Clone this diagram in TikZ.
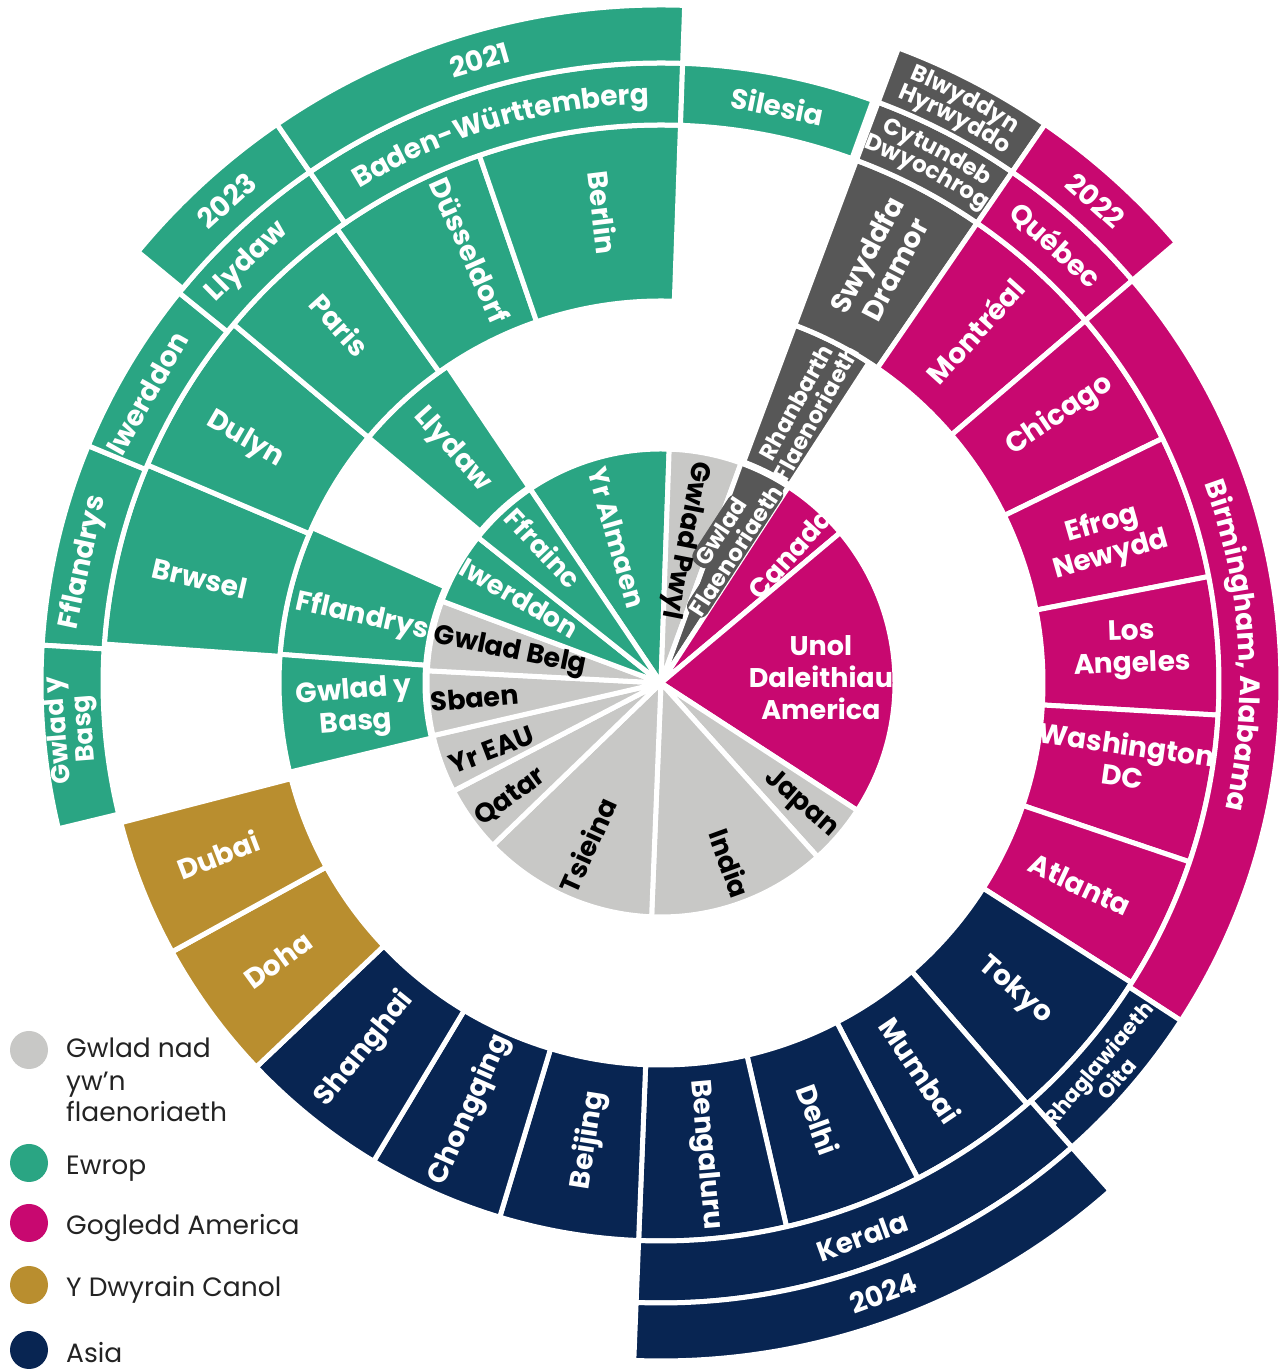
\documentclass[tikz,border=0pt]{standalone}
\usepackage{fontspec}
\setmainfont{Poppins}
\usetikzlibrary{decorations.text}
\definecolor{cEu}{RGB}{42,165,131}
\definecolor{cNa}{RGB}{200,8,112}
\definecolor{cMe}{RGB}{185,142,47}
\definecolor{cAs}{RGB}{8,37,82}
\definecolor{cLg}{RGB}{200,200,198}
\definecolor{cDg}{RGB}{87,87,87}
\definecolor{cTx}{RGB}{35,35,35}
\newcommand{\mysect}[5]{\filldraw[fill=#5, draw=white, line width=5pt, line join=round] (#1:#3) arc[start angle=#1, end angle=#2, radius=#3] -- (#2:#4) arc[start angle=#2, end angle=#1, radius=#4] -- cycle;}
\newcommand{\mylab}[6][white]{\node[lab, text=#1, rotate=#5] (#2) at (#3:#4) {#6};}
% curved text: start angle, end angle, radius, size, text
\newcommand{\arctext}[5]{\path[decorate, decoration={text along path, text align=center, text={|\bfseries\fontsize{#4}{#4}\selectfont\color{white}|#5}}] (#1:#3) arc[start angle=#1, end angle=#2, radius=#3];}
\tikzset{
  lab/.style={font=\bfseries\fontsize{28}{32}\selectfont, align=center, inner sep=0pt},
  innerlab/.style={font=\bfseries\fontsize{27}{32}\selectfont},
  midlab/.style={font=\bfseries\fontsize{23}{23}\selectfont},
  flaenlab/.style={font=\bfseries\fontsize{23}{23}\selectfont},
  basglab/.style={font=\bfseries\fontsize{26}{25}\selectfont},
  tinylab/.style={font=\bfseries\fontsize{21.5}{21}\selectfont},
  legtext/.style={font=\fontsize{26.5}{30}\selectfont, text=cTx, anchor=base west, inner sep=0pt}
}
\begin{document}
\begin{tikzpicture}[x=1pt,y=1pt]
\useasboundingbox (0,0) rectangle (1284,1370);
\fill[white] (0,0) rectangle (1284,1370);
\begin{scope}[shift={(661,687)}]
% ---------- ring 1 : countries
\mysect{88}{124}{0.5}{234}{cEu}
\mysect{70}{88}{0.5}{234}{cLg}
\mysect{57}{70}{0.5}{234}{cDg}
\mysect{40}{57}{0.5}{234}{cNa}
\mysect{-33}{40}{0.5}{234}{cNa}
\mysect{-48}{-33}{0.5}{234}{cLg}
\mysect{-92.3}{-48}{0.5}{234}{cLg}
\mysect{224}{267.7}{0.5}{234}{cLg}
\mysect{207.5}{224}{0.5}{234}{cLg}
\mysect{193}{207.5}{0.5}{234}{cLg}
\mysect{177}{193}{0.5}{234}{cLg}
\mysect{159.5}{177}{0.5}{234}{cLg}
\mysect{141.5}{159.5}{0.5}{234}{cEu}
\mysect{124}{141.5}{0.5}{234}{cEu}
% ---------- ring 2 : regions
\mysect{156}{175.7}{236}{382}{cEu}
\mysect{175.7}{193.5}{236}{382}{cEu}
\mysect{124}{140}{236}{382}{cEu}
\mysect{57}{69.5}{236}{382}{cDg}
% ---------- ring 3 : cities
\mysect{55.5}{69.5}{382}{558}{cDg}
\mysect{40.5}{55.5}{382}{558}{cNa}
\mysect{26}{40.5}{382}{558}{cNa}
\mysect{11}{26}{382}{558}{cNa}
\mysect{-3.3}{11}{382}{558}{cNa}
\mysect{-18.7}{-3.3}{382}{558}{cNa}
\mysect{-32.5}{-18.7}{382}{558}{cNa}
\mysect{-49}{-32.5}{382}{558}{cAs}
\mysect{-62.6}{-49}{382}{558}{cAs}
\mysect{-77}{-62.6}{382}{558}{cAs}
\mysect{-92.3}{-77}{382}{558}{cAs}
\mysect{253.2}{267.7}{382}{558}{cAs}
\mysect{239}{253.2}{382}{558}{cAs}
\mysect{223.5}{239}{382}{558}{cAs}
\mysect{208.8}{223.5}{382}{558}{cMe}
\mysect{194.5}{208.8}{382}{558}{cMe}
\mysect{157}{176}{382}{558}{cEu}
\mysect{140}{157}{382}{558}{cEu}
\mysect{125.5}{140}{382}{558}{cEu}
\mysect{109}{125.5}{382}{558}{cEu}
\mysect{88}{109}{382}{558}{cEu}
% ---------- ring 4
\mysect{157.5}{176.5}{558}{620}{cEu}
\mysect{176.5}{193.6}{558}{620}{cEu}
\mysect{141}{157.5}{558}{620}{cEu}
\mysect{124.5}{141}{558}{620}{cEu}
\mysect{88}{124.5}{558}{620}{cEu}
\mysect{70}{88}{558}{620}{cEu}
\mysect{55.5}{69.5}{558}{620}{cDg}
\mysect{40.5}{55.5}{558}{620}{cNa}
\mysect{-33}{40.5}{558}{620}{cNa}
\mysect{-48.5}{-33}{558}{620}{cAs}
\mysect{-92.3}{-48.5}{558}{620}{cAs}
% ---------- ring 5
\mysect{124.5}{140.5}{620}{678}{cEu}
\mysect{88}{124.5}{620}{678}{cEu}
\mysect{55.5}{69.5}{620}{678}{cDg}
\mysect{40.5}{55.5}{620}{678}{cNa}
\mysect{-92.3}{-48.5}{620}{678}{cAs}

% ---------- labels ring 1
\node[lab, flaenlab, text=white, rotate=57, fill=cDg, rounded corners=9pt, inner sep=3pt] (gflaenA) at (68.5:163) {Gwlad};
\node[lab, flaenlab, text=white, rotate=57, fill=cDg, rounded corners=9pt, inner sep=2pt] (gflaenB) at (60.8:152) {Flaenoriaeth};
\node[lab, innerlab, text=white, rotate=-74] (almaen) at (107:152) {Yr Almaen};
\node[lab, innerlab, text=black, rotate=-101] (pwyl) at (80.5:145) {Gwlad Pwyl};
\node[lab, innerlab, text=white, rotate=48] (canada) at (45:183) {Canada};
\node[lab, innerlab, text=white] (uda) at (2:160) {Unol\\Daleithiau\\America};
\node[lab, innerlab, text=black, rotate=-41] (japan) at (-41:185) {Japan};
\node[lab, innerlab, text=black, rotate=-70] (india) at (-69:193) {India};
\node[lab, innerlab, text=black, rotate=65.7] (tsieina) at (245.7:178) {Tsieina};
\node[lab, innerlab, text=black, rotate=36] (qatar) at (217:189) {Qatar};
\node[lab, innerlab, text=black, rotate=21] (eau) at (201.6:182) {Yr EAU};
\node[lab, innerlab, text=black, rotate=5] (sbaen) at (184.6:187) {Sbaen};
\node[lab, innerlab, text=black, rotate=-11.5] (belg) at (168.4:154) {Gwlad Belg};
\node[lab, innerlab, text=white, rotate=-30] (iwerddon) at (149:165) {Iwerddon};
\node[lab, innerlab, text=white, rotate=-47] (ffrainc) at (131:179) {Ffrainc};
% ---------- labels ring 2
\mylab{fflandrysA}{167.5}{306}{-12.5}{Fflandrys}
\mylab{basgA}{184.7}{307}{4.5}{Gwlad y\\Basg}
\mylab{llydawA}{131.9}{313}{-48}{Llydaw}
\node[lab, midlab, text=white, rotate=61] (rhanbarth) at (62.2:311) {Rhanbarth\\Flaenoriaeth};
% ---------- labels ring 3
\mylab{swyddfa}{62.5}{475}{62.5}{Swyddfa\\Dramor}
\mylab{montreal}{48.3}{472}{48}{Montréal}
\mylab{chicago}{33.9}{480}{34}{Chicago}
\mylab{efrog}{17.8}{468}{16}{Efrog\\Newydd}
\mylab{la}{4}{472}{2}{Los\\Angeles}
\mylab{washington}{-9.4}{470}{-8}{Washington\\DC}
\mylab{atlanta}{-25.7}{465}{-25}{Atlanta}
\mylab{tokyo}{-41}{469}{-41}{Tokyo}
\mylab{mumbai}{-56.2}{466}{-56}{Mumbai}
\mylab{delhi}{-70.2}{464}{-70}{Delhi}
\mylab{bengaluru}{-84.7}{474}{-85}{Bengaluru}
\mylab{beijing}{261}{463}{81}{Beijing}
\mylab{chongqing}{245.9}{468}{66}{Chongqing}
\mylab{shanghai}{231}{471}{51}{Shanghai}
\mylab{doha}{215.9}{473}{36}{Doha}
\mylab{dubai}{201.2}{475}{21}{Dubai}
\mylab{brwsel}{167.2}{473}{-13}{Brwsel}
\mylab{dulyn}{149.7}{482}{-30}{Dulyn}
\mylab{paris}{131.9}{481}{-48}{Paris}
\mylab{dusseldorf}{113.8}{473}{-66}{Düsseldorf}
\mylab{berlin}{97}{474}{-83}{Berlin}
% ---------- labels ring 4
\mylab{fflandrysB}{168.2}{590}{78}{Fflandrys}
\node[lab, basglab, text=white, rotate=94.5] (basgB) at (184.5:590) {Gwlad y\\Basg};
\mylab{iwerddonB}{150.6}{590}{60.6}{Iwerddon}
\mylab{llydawB}{134.5}{590}{44.5}{Llydaw}
\arctext{124.5}{88}{579}{28}{Baden-Württemberg}
\mylab{silesia}{78.6}{589}{-11.4}{Silesia}
\arctext{69.5}{55.5}{594}{23}{Cytundeb}
\arctext{69.5}{55.5}{572}{23}{Dwyochrog}
\mylab{quebec}{48}{589}{-42}{Québec}
\arctext{40.5}{-33}{579}{28}{Birmingham, Alabama}
\node[lab, tinylab, text=white, rotate=49.5] (oita) at (-41:591) {Rhaglawiaeth\\Oita};
\mylab{kerala}{-70}{589}{20}{Kerala}
% ---------- labels ring 5
\mylab{y2023}{132}{649}{42}{2023}
\mylab{y2021}{106.2}{649}{16}{2021}
\arctext{69.5}{55.5}{653}{23}{Blwyddyn}
\arctext{69.5}{55.5}{631}{23}{Hyrwyddo}
\mylab{y2022}{48}{649}{-42}{2022}
\mylab{y2024}{-70}{649}{20}{2024}
\end{scope}
% ---------- legend
\fill[cLg] (29,320) circle[radius=19];
\fill[cEu] (29,207) circle[radius=19];
\fill[cNa] (29,147) circle[radius=19];
\fill[cMe] (29,85) circle[radius=19];
\fill[cAs] (29,20) circle[radius=19];
\node[legtext] (leg1) at (66,312) {Gwlad nad};
\node[legtext] (leg1b) at (66,279) {yw’n};
\node[legtext] (leg1c) at (66,248) {flaenoriaeth};
\node[legtext] (leg2) at (66,195) {Ewrop};
\node[legtext] (leg3) at (66,135) {Gogledd America};
\node[legtext] (leg4) at (66,73) {Y Dwyrain Canol};
\node[legtext] (leg5) at (66,7) {Asia};
\end{tikzpicture}
\end{document}
